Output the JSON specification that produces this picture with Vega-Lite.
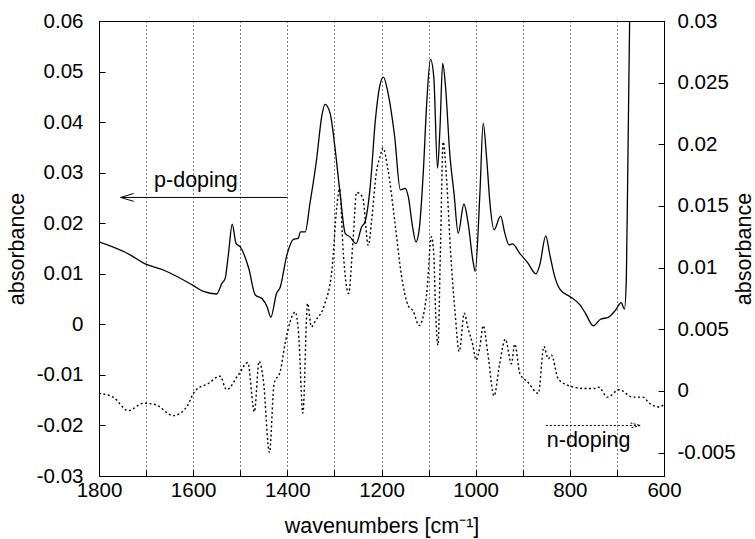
{
  "$schema": "https://vega.github.io/schema/vega-lite/v6.json",
  "width": 565,
  "height": 455,
  "autosize": {"type": "none"},
  "padding": {"left": 99, "top": 21, "right": 91, "bottom": 63},
  "background": "white",
  "config": {
    "font": "Liberation Sans",
    "view": {"stroke": "black", "strokeWidth": 1},
    "axis": {
      "labelFont": "Liberation Sans",
      "titleFont": "Liberation Sans",
      "labelFontSize": 20.5,
      "titleFontSize": 21.5,
      "titleFontWeight": "normal",
      "labelColor": "black",
      "titleColor": "black",
      "domainColor": "black",
      "tickColor": "black",
      "tickSize": -6,
      "grid": false
    }
  },
  "datasets": {
    "pdoping": [
      {"wavenumber": 1800, "absorbance": 0.0163},
      {"wavenumber": 1733, "absorbance": 0.0137},
      {"wavenumber": 1705, "absorbance": 0.0121},
      {"wavenumber": 1662, "absorbance": 0.0107},
      {"wavenumber": 1602, "absorbance": 0.0078},
      {"wavenumber": 1578, "absorbance": 0.0065},
      {"wavenumber": 1550, "absorbance": 0.006},
      {"wavenumber": 1539, "absorbance": 0.0081},
      {"wavenumber": 1532, "absorbance": 0.0091},
      {"wavenumber": 1525, "absorbance": 0.014},
      {"wavenumber": 1517, "absorbance": 0.0198},
      {"wavenumber": 1509, "absorbance": 0.016},
      {"wavenumber": 1500, "absorbance": 0.0153},
      {"wavenumber": 1482, "absorbance": 0.0111},
      {"wavenumber": 1468, "absorbance": 0.0058},
      {"wavenumber": 1454, "absorbance": 0.0051},
      {"wavenumber": 1443, "absorbance": 0.0035},
      {"wavenumber": 1435, "absorbance": 0.0014},
      {"wavenumber": 1423, "absorbance": 0.0061},
      {"wavenumber": 1415, "absorbance": 0.0074},
      {"wavenumber": 1401, "absorbance": 0.0137},
      {"wavenumber": 1387, "absorbance": 0.0168},
      {"wavenumber": 1377, "absorbance": 0.017},
      {"wavenumber": 1372, "absorbance": 0.0183},
      {"wavenumber": 1362, "absorbance": 0.0183},
      {"wavenumber": 1352, "absorbance": 0.0239},
      {"wavenumber": 1338, "absorbance": 0.0325},
      {"wavenumber": 1327, "absorbance": 0.0411},
      {"wavenumber": 1320, "absorbance": 0.0435},
      {"wavenumber": 1309, "absorbance": 0.0417},
      {"wavenumber": 1299, "absorbance": 0.0351},
      {"wavenumber": 1288, "absorbance": 0.0259},
      {"wavenumber": 1277, "absorbance": 0.018},
      {"wavenumber": 1267, "absorbance": 0.0173},
      {"wavenumber": 1254, "absorbance": 0.016},
      {"wavenumber": 1242, "absorbance": 0.0193},
      {"wavenumber": 1235, "absorbance": 0.0203},
      {"wavenumber": 1224, "absorbance": 0.0272},
      {"wavenumber": 1213, "absorbance": 0.0404},
      {"wavenumber": 1204, "absorbance": 0.047},
      {"wavenumber": 1196, "absorbance": 0.0489},
      {"wavenumber": 1186, "absorbance": 0.0457},
      {"wavenumber": 1172, "absorbance": 0.0371},
      {"wavenumber": 1160, "absorbance": 0.0266},
      {"wavenumber": 1150, "absorbance": 0.0269},
      {"wavenumber": 1143, "absorbance": 0.0252},
      {"wavenumber": 1134, "absorbance": 0.0193},
      {"wavenumber": 1127, "absorbance": 0.0163},
      {"wavenumber": 1120, "absorbance": 0.0187},
      {"wavenumber": 1111, "absorbance": 0.0305},
      {"wavenumber": 1104, "absorbance": 0.0437},
      {"wavenumber": 1096, "absorbance": 0.0524},
      {"wavenumber": 1089, "absorbance": 0.049},
      {"wavenumber": 1081, "absorbance": 0.0309},
      {"wavenumber": 1076, "absorbance": 0.0384},
      {"wavenumber": 1070, "absorbance": 0.0516},
      {"wavenumber": 1064, "absorbance": 0.047},
      {"wavenumber": 1055, "absorbance": 0.0338},
      {"wavenumber": 1046, "absorbance": 0.0259},
      {"wavenumber": 1037, "absorbance": 0.018},
      {"wavenumber": 1025, "absorbance": 0.0238},
      {"wavenumber": 1016, "absorbance": 0.02},
      {"wavenumber": 1006, "absorbance": 0.0127},
      {"wavenumber": 1001, "absorbance": 0.0105},
      {"wavenumber": 991, "absorbance": 0.0259},
      {"wavenumber": 984, "absorbance": 0.0398},
      {"wavenumber": 977, "absorbance": 0.0332},
      {"wavenumber": 969, "absorbance": 0.0233},
      {"wavenumber": 961, "absorbance": 0.0187},
      {"wavenumber": 947, "absorbance": 0.0214},
      {"wavenumber": 938, "absorbance": 0.018},
      {"wavenumber": 929, "absorbance": 0.0157},
      {"wavenumber": 922, "absorbance": 0.0159},
      {"wavenumber": 906, "absorbance": 0.014},
      {"wavenumber": 889, "absorbance": 0.0121},
      {"wavenumber": 872, "absorbance": 0.01},
      {"wavenumber": 864, "absorbance": 0.0117},
      {"wavenumber": 851, "absorbance": 0.0175},
      {"wavenumber": 843, "absorbance": 0.014},
      {"wavenumber": 832, "absorbance": 0.0094},
      {"wavenumber": 820, "absorbance": 0.0068},
      {"wavenumber": 800, "absorbance": 0.0055},
      {"wavenumber": 778, "absorbance": 0.0038},
      {"wavenumber": 767, "absorbance": 0.0022},
      {"wavenumber": 750, "absorbance": -0.0003},
      {"wavenumber": 735, "absorbance": 0.001},
      {"wavenumber": 718, "absorbance": 0.0014},
      {"wavenumber": 703, "absorbance": 0.0028},
      {"wavenumber": 691, "absorbance": 0.0043},
      {"wavenumber": 684, "absorbance": 0.003},
      {"wavenumber": 680, "absorbance": 0.009},
      {"wavenumber": 677, "absorbance": 0.03},
      {"wavenumber": 673, "absorbance": 0.06},
      {"wavenumber": 670, "absorbance": 0.08}
    ],
    "ndoping": [
      {"wavenumber": 1800, "absorbance": -0.0002},
      {"wavenumber": 1770, "absorbance": -0.0005},
      {"wavenumber": 1738, "absorbance": -0.0016},
      {"wavenumber": 1706, "absorbance": -0.001},
      {"wavenumber": 1681, "absorbance": -0.0011},
      {"wavenumber": 1642, "absorbance": -0.002},
      {"wavenumber": 1614, "absorbance": -0.0013},
      {"wavenumber": 1596, "absorbance": 0.0},
      {"wavenumber": 1568, "absorbance": 0.0006},
      {"wavenumber": 1543, "absorbance": 0.0012},
      {"wavenumber": 1529, "absorbance": 0.0001},
      {"wavenumber": 1504, "absorbance": 0.0013},
      {"wavenumber": 1484, "absorbance": 0.0023},
      {"wavenumber": 1470, "absorbance": -0.0017},
      {"wavenumber": 1460, "absorbance": 0.0024},
      {"wavenumber": 1451, "absorbance": 0.0009},
      {"wavenumber": 1438, "absorbance": -0.005},
      {"wavenumber": 1428, "absorbance": 0.0006},
      {"wavenumber": 1415, "absorbance": 0.0016},
      {"wavenumber": 1404, "absorbance": 0.004},
      {"wavenumber": 1383, "absorbance": 0.0064},
      {"wavenumber": 1376, "absorbance": 0.0046},
      {"wavenumber": 1367, "absorbance": -0.0018},
      {"wavenumber": 1357, "absorbance": 0.0071},
      {"wavenumber": 1349, "absorbance": 0.0052},
      {"wavenumber": 1340, "absorbance": 0.0057},
      {"wavenumber": 1321, "absorbance": 0.007},
      {"wavenumber": 1305, "absorbance": 0.0099},
      {"wavenumber": 1295, "absorbance": 0.0149},
      {"wavenumber": 1289, "absorbance": 0.0164},
      {"wavenumber": 1281, "absorbance": 0.0111},
      {"wavenumber": 1270, "absorbance": 0.0079},
      {"wavenumber": 1260, "absorbance": 0.0125},
      {"wavenumber": 1253, "absorbance": 0.0161},
      {"wavenumber": 1240, "absorbance": 0.0157},
      {"wavenumber": 1228, "absorbance": 0.0118},
      {"wavenumber": 1221, "absorbance": 0.0138},
      {"wavenumber": 1211, "absorbance": 0.0177},
      {"wavenumber": 1203, "absorbance": 0.019},
      {"wavenumber": 1197, "absorbance": 0.0197},
      {"wavenumber": 1186, "absorbance": 0.0179},
      {"wavenumber": 1172, "absorbance": 0.0138},
      {"wavenumber": 1157, "absorbance": 0.0092},
      {"wavenumber": 1143, "absorbance": 0.0069},
      {"wavenumber": 1133, "absorbance": 0.0065},
      {"wavenumber": 1120, "absorbance": 0.0053},
      {"wavenumber": 1104, "absorbance": 0.0079},
      {"wavenumber": 1094, "absorbance": 0.0125},
      {"wavenumber": 1089, "absorbance": 0.0111},
      {"wavenumber": 1085, "absorbance": 0.0063},
      {"wavenumber": 1080, "absorbance": 0.0037},
      {"wavenumber": 1075, "absorbance": 0.0111},
      {"wavenumber": 1069, "absorbance": 0.0202},
      {"wavenumber": 1062, "absorbance": 0.0173},
      {"wavenumber": 1053, "absorbance": 0.0111},
      {"wavenumber": 1044, "absorbance": 0.0065},
      {"wavenumber": 1035, "absorbance": 0.0032},
      {"wavenumber": 1024, "absorbance": 0.0063},
      {"wavenumber": 1017, "absorbance": 0.0052},
      {"wavenumber": 1006, "absorbance": 0.0037},
      {"wavenumber": 999, "absorbance": 0.0025},
      {"wavenumber": 991, "absorbance": 0.0036},
      {"wavenumber": 984, "absorbance": 0.0053},
      {"wavenumber": 974, "absorbance": 0.003},
      {"wavenumber": 961, "absorbance": -0.0004},
      {"wavenumber": 949, "absorbance": 0.0022},
      {"wavenumber": 937, "absorbance": 0.0042},
      {"wavenumber": 924, "absorbance": 0.0022},
      {"wavenumber": 917, "absorbance": 0.0038},
      {"wavenumber": 906, "absorbance": 0.0014},
      {"wavenumber": 889, "absorbance": 0.0007},
      {"wavenumber": 867, "absorbance": -0.0002},
      {"wavenumber": 855, "absorbance": 0.0036},
      {"wavenumber": 846, "absorbance": 0.0026},
      {"wavenumber": 839, "absorbance": 0.0029},
      {"wavenumber": 825, "absorbance": 0.001},
      {"wavenumber": 807, "absorbance": 0.0005},
      {"wavenumber": 790, "absorbance": 0.0003},
      {"wavenumber": 773, "absorbance": 0.0002},
      {"wavenumber": 744, "absorbance": 0.0002},
      {"wavenumber": 739, "absorbance": 0.0003},
      {"wavenumber": 720, "absorbance": -0.0005},
      {"wavenumber": 695, "absorbance": 0.0001},
      {"wavenumber": 667, "absorbance": -0.0005},
      {"wavenumber": 645, "absorbance": -0.0005},
      {"wavenumber": 631, "absorbance": -0.001},
      {"wavenumber": 610, "absorbance": -0.0013},
      {"wavenumber": 600, "absorbance": -0.0011}
    ],
    "pnote": [
      {"wavenumber": 1683, "absorbance": 0.0272, "label": "p-doping"}
    ],
    "parrow": [
      {"wavenumber": 1400, "wavenumber_end": 1754, "absorbance": 0.0251}
    ],
    "nnote": [
      {"wavenumber": 849, "absorbance": -0.00455, "label": "n-doping"}
    ],
    "narrow": [
      {"wavenumber": 851, "wavenumber_end": 650, "absorbance": -0.0028}
    ]
  },
  "encoding": {
    "x": {
      "field": "wavenumber",
      "type": "quantitative",
      "scale": {"domain": [600, 1800], "reverse": true, "nice": false, "zero": false},
      "axis": {
        "title": "wavenumbers [cm⁻¹]",
        "values": [1800, 1700, 1600, 1500, 1400, 1300, 1200, 1100, 1000, 900, 800, 700, 600],
        "labelExpr": "datum.value % 200 === 0 ? format(datum.value, 'd') : ''",
        "labelPadding": 10,
        "labelFlush": false,
        "titlePadding": 15,
        "grid": true,
        "gridColor": "black",
        "gridDash": [1, 3],
        "gridWidth": 1,
        "gridOpacity": 1
      }
    }
  },
  "layer": [
    {
      "encoding": {
        "y": {
          "field": "absorbance",
          "type": "quantitative",
          "scale": {"domain": [-0.03, 0.06], "nice": false, "zero": false},
          "axis": {
            "orient": "left",
            "title": "absorbance",
            "values": [-0.03, -0.02, -0.01, 0, 0.01, 0.02, 0.03, 0.04, 0.05, 0.06],
            "format": "~g",
            "labelExpr": "replace(datum.label, '\u2212', '-')",
            "labelPadding": 22,
            "titlePadding": 8
          }
        }
      },
      "layer": [
        {
          "data": {"name": "pdoping"},
          "mark": {"type": "line", "color": "black", "strokeWidth": 1.3, "clip": true, "interpolate": "monotone"}
        },
        {
          "data": {"name": "pnote"},
          "mark": {"type": "text", "align": "left", "baseline": "alphabetic", "fontSize": 21.5, "font": "Liberation Sans", "color": "black"},
          "encoding": {"text": {"field": "label"}}
        },
        {
          "data": {"name": "parrow"},
          "mark": {"type": "rule", "color": "black", "strokeWidth": 1},
          "encoding": {"x2": {"field": "wavenumber_end"}}
        },
        {
          "data": {"name": "parrow"},
          "mark": {"type": "point", "shape": "M 2 -0.6 L 0 0 L 2 0.6", "size": 169, "filled": false, "stroke": "black", "strokeWidth": 1, "opacity": 1},
          "encoding": {"x": {"field": "wavenumber_end", "type": "quantitative"}}
        }
      ]
    },
    {
      "encoding": {
        "y": {
          "field": "absorbance",
          "type": "quantitative",
          "scale": {"domain": [-0.0069, 0.03], "nice": false, "zero": false},
          "axis": {
            "orient": "right",
            "title": "absorbance",
            "titleAngle": -90,
            "values": [-0.005, 0, 0.005, 0.01, 0.015, 0.02, 0.025, 0.03],
            "format": "~g",
            "labelExpr": "replace(datum.label, '\u2212', '-')",
            "labelPadding": 19,
            "titlePadding": 20
          }
        }
      },
      "layer": [
        {
          "data": {"name": "ndoping"},
          "mark": {"type": "line", "color": "black", "strokeWidth": 1.4, "strokeDash": [2, 2.5], "clip": true, "interpolate": "monotone"}
        },
        {
          "data": {"name": "nnote"},
          "mark": {"type": "text", "align": "left", "baseline": "alphabetic", "fontSize": 21.5, "font": "Liberation Sans", "color": "black"},
          "encoding": {"text": {"field": "label"}}
        },
        {
          "data": {"name": "narrow"},
          "mark": {"type": "rule", "color": "black", "strokeWidth": 1, "strokeDash": [2, 2]},
          "encoding": {"x2": {"field": "wavenumber_end"}}
        },
        {
          "data": {"name": "narrow"},
          "mark": {"type": "point", "shape": "M -2 -0.5 L 0 0 L -2 0.5", "size": 100, "filled": false, "stroke": "black", "strokeWidth": 1, "strokeDash": [2, 1.5], "opacity": 1},
          "encoding": {"x": {"field": "wavenumber_end", "type": "quantitative"}}
        }
      ]
    }
  ],
  "resolve": {"scale": {"y": "independent"}, "axis": {"y": "independent"}}
}
